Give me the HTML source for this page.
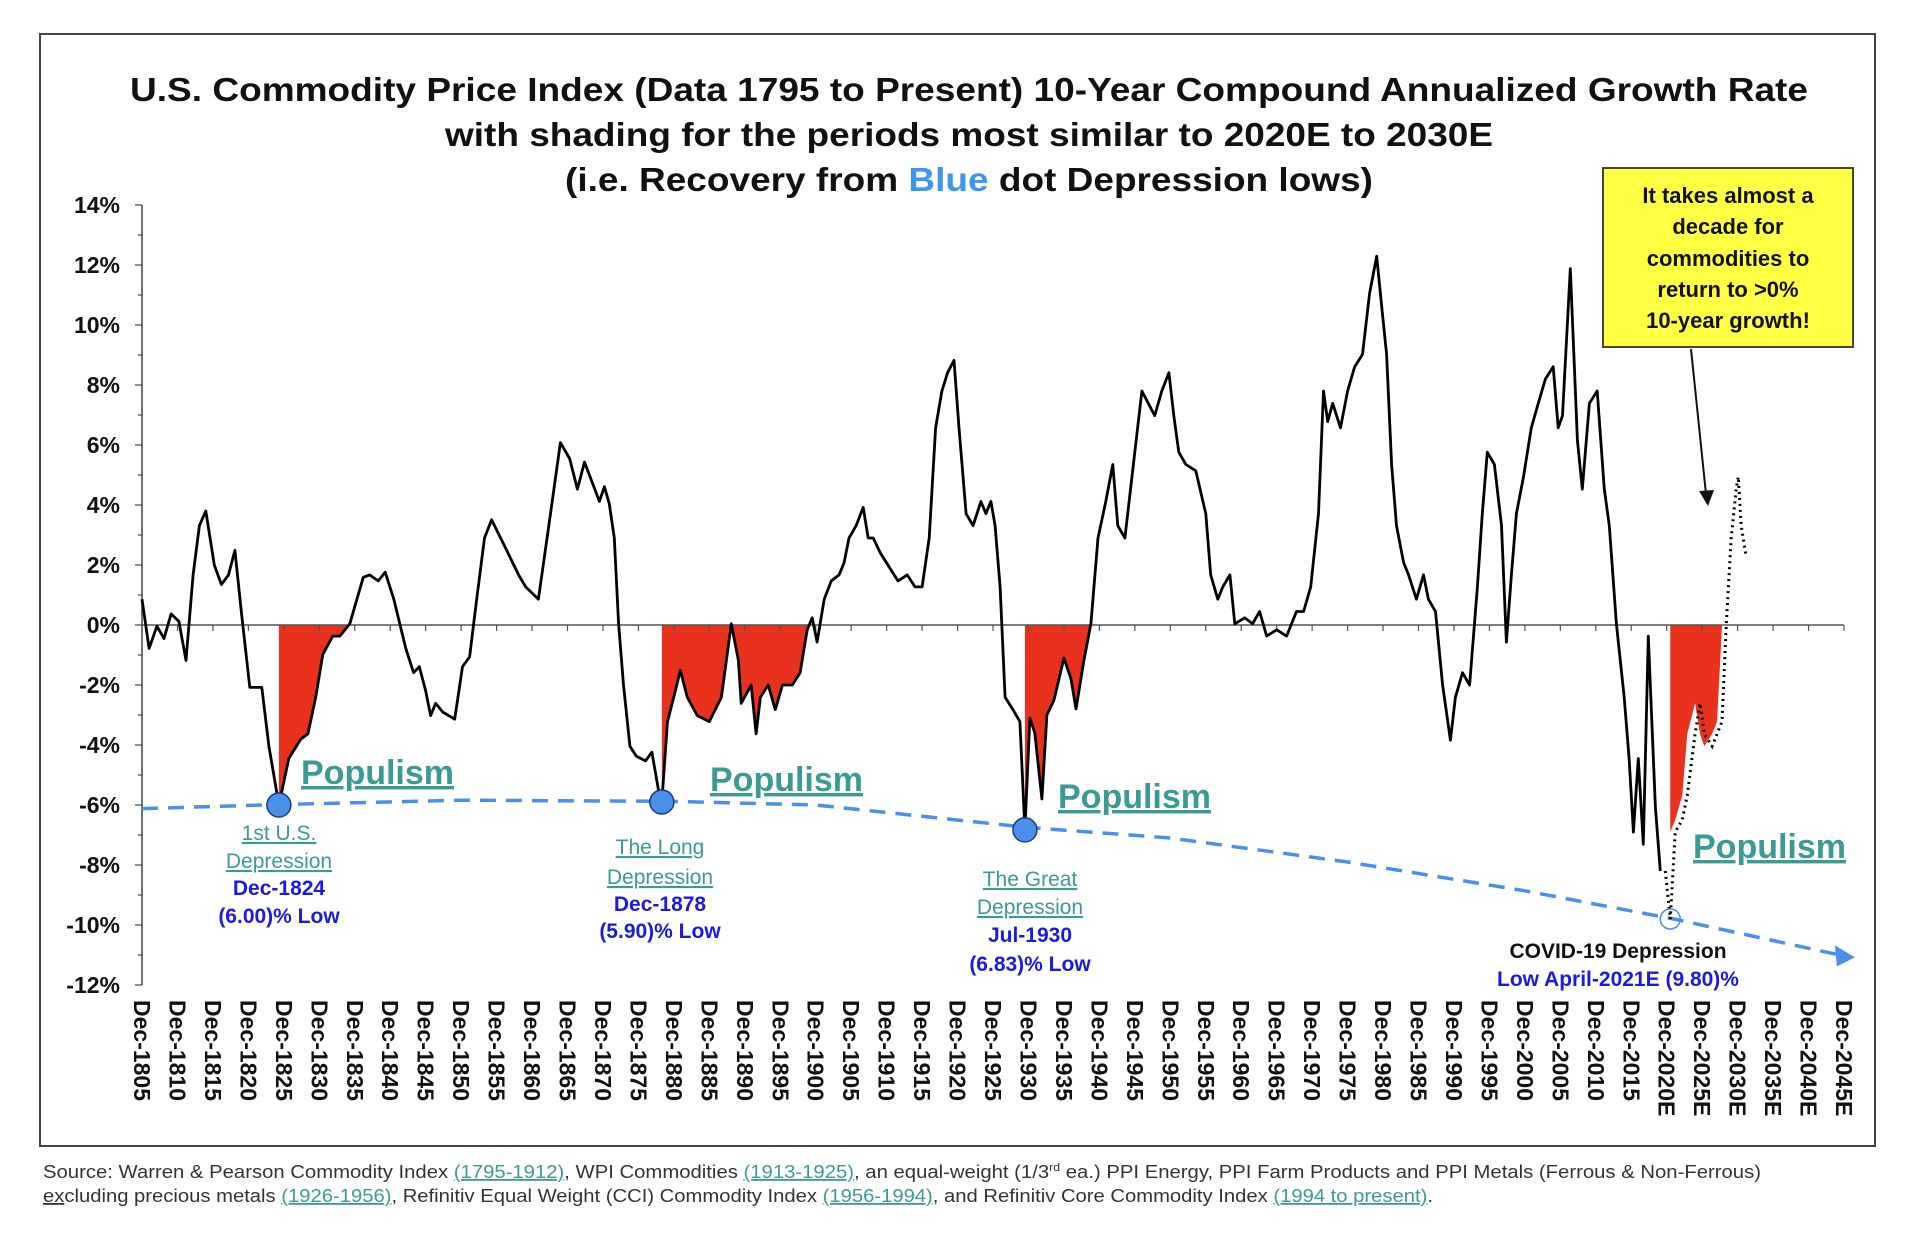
<!DOCTYPE html>
<html><head><meta charset="utf-8"><style>
html,body{margin:0;padding:0;background:#fff}
svg{display:block;font-family:"Liberation Sans",Arial,sans-serif}
</style></head><body>
<svg id="chart" width="1918" height="1254" viewBox="0 0 1918 1254" xmlns="http://www.w3.org/2000/svg">
<rect x="40" y="34" width="1835" height="1112" fill="#fff" stroke="#444" stroke-width="2"/>
<g font-weight="bold" font-size="33" text-anchor="middle" fill="#111">
<text x="969" y="101" textLength="1678" lengthAdjust="spacingAndGlyphs">U.S. Commodity Price Index (Data 1795 to Present) 10-Year Compound Annualized Growth Rate</text>
<text x="969" y="146" textLength="1048" lengthAdjust="spacingAndGlyphs">with shading for the periods most similar to 2020E to 2030E</text>
<text x="969" y="191" textLength="808" lengthAdjust="spacingAndGlyphs">(i.e. Recovery from <tspan fill="#3d95f0">Blue</tspan> dot Depression lows)</text>
</g>
<g id="fills"></g><g id="axes"></g><g id="series"></g><g id="annot"></g>
<g>
<rect x="1603" y="168" width="250" height="179" fill="#ffff44" stroke="#444" stroke-width="2"/>
<g font-weight="bold" font-size="22" text-anchor="middle" fill="#111">
<text x="1728" y="203">It takes almost a</text><text x="1728" y="234">decade for</text><text x="1728" y="266">commodities to</text><text x="1728" y="297">return to &gt;0%</text><text x="1728" y="328">10-year growth!</text></g>
<line x1="1691" y1="349" x2="1706" y2="494" stroke="#111" stroke-width="2"/>
<polygon points="1699,491 1714,490 1708,506" fill="#111"/>
</g>
<g font-size="18" fill="#333">
<text x="43" y="1178" textLength="1718" lengthAdjust="spacingAndGlyphs">Source: Warren &amp; Pearson Commodity Index <tspan fill="#3a9a94" text-decoration="underline">(1795-1912)</tspan>, WPI Commodities <tspan fill="#3a9a94" text-decoration="underline">(1913-1925)</tspan>, an equal-weight (1/3<tspan font-size="11" dy="-7">rd</tspan><tspan dy="7"> ea.) PPI Energy, PPI Farm Products and PPI Metals (Ferrous &amp; Non-Ferrous)</tspan></text>
<text x="43" y="1202" textLength="1390" lengthAdjust="spacingAndGlyphs"><tspan text-decoration="underline">ex</tspan>cluding precious metals <tspan fill="#3a9a94" text-decoration="underline">(1926-1956)</tspan>, Refinitiv Equal Weight (CCI) Commodity Index <tspan fill="#3a9a94" text-decoration="underline">(1956-1994)</tspan>, and Refinitiv Core Commodity  Index <tspan fill="#3a9a94" text-decoration="underline">(1994 to present)</tspan>.</text>
</g>
</svg>
<script>
const years=[1805.0,1806.0,1807.1,1808.1,1809.1,1810.2,1811.2,1812.2,1813.1,1814.0,1815.2,1816.2,1817.2,1818.1,1819.0,1820.2,1821.9,1822.9,1824.3,1825.7,1827.4,1828.4,1829.5,1830.5,1831.9,1832.9,1834.3,1835.3,1836.2,1837.1,1838.3,1839.3,1840.5,1842.2,1843.3,1844.1,1845.0,1845.7,1846.4,1847.4,1849.1,1850.2,1851.2,1852.2,1853.3,1854.3,1856.0,1857.1,1858.1,1859.1,1860.9,1862.6,1864.0,1865.3,1866.4,1867.4,1869.5,1870.2,1870.9,1871.6,1872.2,1872.9,1873.8,1874.7,1876.0,1876.9,1877.8,1878.3,1879.1,1880.2,1880.9,1881.9,1883.3,1885.0,1886.7,1888.1,1889.1,1889.5,1890.9,1891.6,1892.2,1893.3,1894.3,1895.3,1896.7,1897.8,1898.8,1899.5,1900.2,1901.2,1902.2,1903.3,1904.0,1904.7,1905.7,1906.7,1907.4,1908.1,1909.1,1910.5,1911.6,1912.9,1914.0,1915.0,1916.0,1916.9,1917.8,1918.6,1919.5,1920.2,1921.2,1922.2,1923.3,1924.0,1924.7,1925.3,1926.0,1926.7,1927.8,1928.8,1929.5,1930.2,1930.9,1931.9,1932.6,1933.6,1935.0,1936.0,1936.7,1937.8,1938.8,1939.8,1940.9,1941.9,1942.6,1943.6,1945.0,1946.0,1947.8,1948.8,1949.8,1950.5,1951.2,1952.2,1953.6,1955.0,1955.7,1956.7,1957.4,1958.4,1959.1,1960.5,1961.6,1962.6,1963.6,1965.0,1966.4,1967.8,1968.8,1969.8,1970.9,1971.6,1972.2,1972.9,1974.0,1975.0,1976.0,1977.1,1978.1,1979.1,1979.8,1980.5,1981.2,1981.9,1982.9,1983.6,1984.7,1985.7,1986.4,1987.4,1988.4,1989.5,1990.2,1991.2,1992.2,1993.3,1994.0,1994.7,1995.7,1996.7,1997.4,1998.1,1998.8,1999.8,2000.9,2001.9,2002.9,2004.0,2004.7,2005.3,2006.4,2007.4,2008.1,2009.1,2010.2,2011.2,2011.9,2012.9,2014.0,2014.7,2015.3,2016.0,2016.7,2017.4,2018.4,2019.1,2019.8];
const values=[0.86,-0.78,-0.04,-0.45,0.37,0.12,-1.18,1.67,3.31,3.8,2.0,1.35,1.67,2.49,0.45,-2.08,-2.08,-4.04,-6.0,-4.45,-3.8,-3.63,-2.41,-0.98,-0.37,-0.37,0.04,0.86,1.59,1.67,1.47,1.76,0.86,-0.78,-1.59,-1.39,-2.2,-3.02,-2.61,-2.9,-3.14,-1.39,-1.06,0.86,2.9,3.51,2.69,2.16,1.67,1.27,0.86,3.71,6.08,5.55,4.53,5.43,4.12,4.61,4.04,2.9,0.04,-2.0,-4.04,-4.37,-4.53,-4.24,-5.47,-5.9,-3.22,-2.2,-1.51,-2.41,-3.02,-3.22,-2.41,0.04,-1.18,-2.61,-2.0,-3.63,-2.41,-2.0,-2.82,-2.0,-2.0,-1.59,-0.16,0.24,-0.57,0.86,1.47,1.67,2.08,2.9,3.31,3.92,2.9,2.9,2.41,1.88,1.47,1.67,1.27,1.27,2.9,6.57,7.8,8.41,8.82,6.57,3.71,3.31,4.12,3.71,4.12,3.31,1.27,-2.41,-2.82,-3.22,-6.83,-3.1,-3.6,-5.8,-3.0,-2.5,-1.1,-1.8,-2.8,-1.2,0.04,2.9,4.12,5.35,3.31,2.9,5.76,7.8,6.98,7.8,8.41,6.98,5.76,5.35,5.14,3.71,1.67,0.86,1.27,1.67,0.04,0.24,0.04,0.45,-0.37,-0.16,-0.37,0.45,0.45,1.27,3.71,7.8,6.78,7.39,6.57,7.8,8.61,9.02,11.06,12.29,10.65,9.02,5.35,3.31,2.08,1.67,0.86,1.67,0.86,0.45,-2.0,-3.84,-2.41,-1.59,-2.0,1.27,3.71,5.76,5.35,3.31,-0.57,1.67,3.71,4.94,6.57,7.39,8.2,8.61,6.57,6.98,11.88,6.16,4.53,7.39,7.8,4.53,3.31,0.04,-2.41,-4.45,-6.9,-4.45,-7.31,-0.37,-6.08,-8.2];
const projYears=[2019.8,2020.5,2021.2,2022.2,2022.9,2024.0,2024.7,2025.3,2026.4,2027.1,2027.8,2028.4,2029.1,2029.8,2030.1,2030.5,2031.2];
const projValues=[-8.2,-9.8,-6.9,-6.49,-5.67,-3.63,-2.61,-3.63,-4.04,-3.63,-3.22,0.04,2.9,4.53,4.94,3.31,2.29];
const lowYears=[1824.3,1878.3,1929.5,2020.5];
const lowValues=[-6.0,-5.9,-6.83,-9.8];
const shadeStart=[1824.3,1878.3,1929.5,2020.5];
const shadeEnd=[1834.3,1899.0,1939.8,2028.4];
const trendYears=[1805,1825,1850,1880,1900,1930,1950,1975,2000,2021,2044];
const trendValues=[-6.12,-5.98,-5.84,-5.88,-6.0,-6.75,-7.1,-7.9,-8.86,-9.8,-10.98];
const yTicks=[14,12,10,8,6,4,2,0,-2,-4,-6,-8,-10,-12];
const xTickYears=[];for(let y=1805;y<=2045;y+=5)xTickYears.push(y);

const NS="http://www.w3.org/2000/svg";
const X0=142,X1=1844,Y0=625,PXP=30;
function xs(y){return X0+(y-1805)*(X1-X0)/240;}
function ys(v){return Y0-v*PXP;}
function mk(tag,attrs,parent){const e=document.createElementNS(NS,tag);for(const k in attrs)e.setAttribute(k,attrs[k]);parent.appendChild(e);return e;}
const axes=document.getElementById('axes'),fills=document.getElementById('fills'),series=document.getElementById('series'),annot=document.getElementById('annot');
const allY=years.concat(projYears.slice(1)),allV=values.concat(projValues.slice(1));
function valAt(t){for(let i=0;i<allY.length-1;i++){if(t>=allY[i]&&t<=allY[i+1]){const f=(t-allY[i])/(allY[i+1]-allY[i]);return allV[i]+f*(allV[i+1]-allV[i]);}}return 0;}
for(let k=0;k<shadeStart.length;k++){
  let pts=[[xs(shadeStart[k]),ys(0)]];
  pts.push([xs(shadeStart[k]),ys(Math.min(0,valAt(shadeStart[k])))]);
  for(let i=0;i<allY.length;i++){if(allY[i]>shadeStart[k]&&allY[i]<shadeEnd[k])pts.push([xs(allY[i]),ys(Math.min(0,allV[i]))]);}
  pts.push([xs(shadeEnd[k]),ys(Math.min(0,valAt(shadeEnd[k])))]);
  pts.push([xs(shadeEnd[k]),ys(0)]);
  const p=mk('polygon',{points:pts.map(p=>p.join(',')).join(' '),fill:'#e8321e'},fills);
  
  
}
const ya=mk('line',{x1:X0,y1:ys(14),x2:X0,y2:ys(-12),stroke:'#444','stroke-width':1.5},axes);

for(let v=-12;v<=14;v+=1){mk('line',{x1:X0-(v%2===0?7:4),y1:ys(v),x2:X0,y2:ys(v),stroke:'#444','stroke-width':1.2},axes);}
yTicks.forEach(v=>{const t=mk('text',{x:120,y:ys(v)+8,'text-anchor':'end','font-size':23,'font-weight':'bold',fill:'#111'},axes);t.textContent=v+'%';
});
const za=mk('line',{x1:X0,y1:Y0,x2:X1,y2:Y0,stroke:'#555','stroke-width':1.5},axes);

xTickYears.forEach(y=>{mk('line',{x1:xs(y),y1:Y0,x2:xs(y),y2:Y0+6,stroke:'#555','stroke-width':1.2},axes);
 const t=mk('text',{transform:`translate(${xs(y)-8},1000) rotate(90)`,'font-size':23,'font-weight':'bold',fill:'#111'},axes);
 t.textContent='Dec-'+y+(y>=2020?'E':'');
 });
const tl=mk('path',{d:trendYears.map((y,i)=>(i?'L':'M')+xs(y)+','+ys(trendValues[i])).join(''),fill:'none',stroke:'#4a90e8','stroke-width':3.5,'stroke-dasharray':'16,10'},series);

const n=trendYears.length-1;const ax=xs(trendYears[n]),ay=ys(trendValues[n]);
const ah=mk('polygon',{points:`${ax+18},${ay+3} ${ax-2},${ay-9} ${ax},${ay+12}`,fill:'#4a90e8'},series);

const sl=mk('path',{d:years.map((y,i)=>(i?'L':'M')+xs(y).toFixed(1)+','+ys(values[i]).toFixed(1)).join(''),fill:'none',stroke:'#000','stroke-width':2.8,'stroke-linejoin':'round'},series);

const pl=mk('path',{d:projYears.map((y,i)=>(i?'L':'M')+xs(y).toFixed(1)+','+ys(projValues[i]).toFixed(1)).join(''),fill:'none',stroke:'#000','stroke-width':3,'stroke-dasharray':'2,4'},series);

lowYears.forEach((y,i)=>{const last=i===lowYears.length-1;
 const c=mk('circle',{cx:xs(y),cy:ys(lowValues[i]),r:last?10:12,fill:last?'none':'#4a90e8',stroke:last?'#4a90e8':'#1a3a80','stroke-width':1.5},series);
 });
function txt(x,y,s,attrs,name){const t=mk('text',Object.assign({x:x,y:y,'text-anchor':'middle'},attrs),annot);t.textContent=s;
 return t;}
const teal={fill:'#3a9a94','font-size':21,'text-decoration':'underline'};
const blue={fill:'#1a1ae0','font-size':21,'font-weight':'bold'};
const pop={fill:'#3a9a94','font-size':34,'font-weight':'bold','text-decoration':'underline','text-anchor':'start'};
txt(301,784,'Populism',pop,'populism-label');
txt(710,791,'Populism',pop,'populism-label');
txt(1058,808,'Populism',pop,'populism-label');
txt(1693,858,'Populism',pop,'populism-label');
txt(279,840,'1st U.S.',teal,'depression-name');txt(279,868,'Depression',teal,'depression-name');
txt(279,895,'Dec-1824',blue,'depression-date');txt(279,923,'(6.00)% Low',blue,'depression-low-value');
txt(660,854,'The Long',teal,'depression-name');txt(660,884,'Depression',teal,'depression-name');
txt(660,911,'Dec-1878',blue,'depression-date');txt(660,938,'(5.90)% Low',blue,'depression-low-value');
txt(1030,886,'The Great',teal,'depression-name');txt(1030,914,'Depression',teal,'depression-name');
txt(1030,942,'Jul-1930',blue,'depression-date');txt(1030,971,'(6.83)% Low',blue,'depression-low-value');
txt(1618,958,'COVID-19 Depression',{fill:'#111','font-size':21,'font-weight':'bold'},'covid-depression-label');
txt(1618,986,'Low April-2021E (9.80)%',blue,'covid-low-value');
</script>
</body></html>
